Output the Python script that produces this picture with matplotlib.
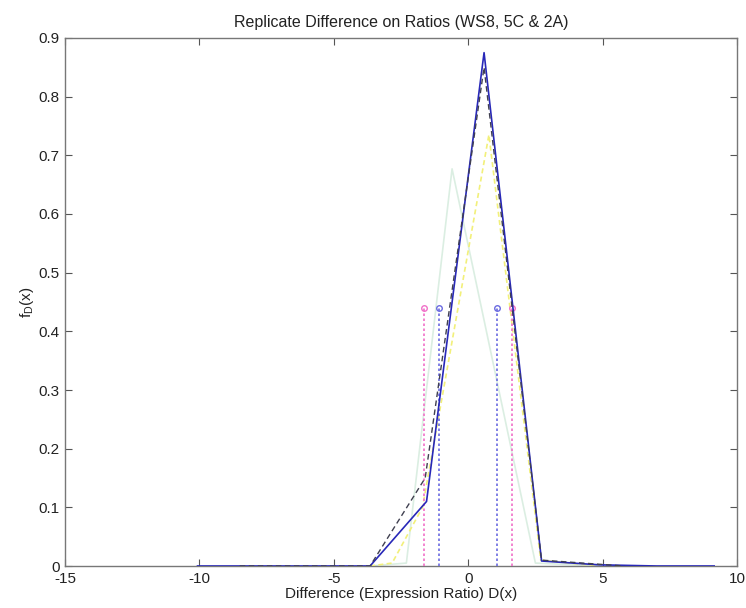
import matplotlib
matplotlib.use("Agg")
import matplotlib.pyplot as plt

plt.rcParams['font.family'] = ['Liberation Sans', 'DejaVu Sans']
plt.rcParams['mathtext.fontset'] = 'custom'
plt.rcParams['mathtext.rm'] = 'Liberation Sans'
plt.rcParams['mathtext.it'] = 'Liberation Sans'
plt.rcParams['axes.unicode_minus'] = False

# Series (x, f_D(x))
green_x = [-3.65, -2.3, -0.6, 2.5, 4.87]
green_y = [0.0, 0.005, 0.677, 0.005, 0.0]

yellow_x = [-3.65, -2.83, -1.7, 0.77, 2.7, 4.87]
yellow_y = [0.0, 0.005, 0.10, 0.735, 0.01, 0.0]

blue_x = [-10.07, -7.93, -5.79, -3.65, -1.55, 0.59, 2.73, 4.87, 7.01, 9.15]
blue_y = [0.0, 0.0, 0.0, 0.0, 0.11, 0.875, 0.0085, 0.002, 0.0, 0.0]

black_x = [-8.5, -5.79, -3.65, -1.6, 0.59, 2.73, 4.87, 5.8]
black_y = [0.0, 0.0, 0.0, 0.15, 0.85, 0.01, 0.003, 0.0]

# Vertical marker lines
magenta_vx = [-1.64, 1.63]
blue_vx = [-1.08, 1.07]
vline_top = 0.44

title = "Replicate Difference on Ratios (WS8, 5C & 2A)"
xlabel = "Difference (Expression Ratio) D(x)"
ylabel = r"f$_\mathregular{D}$(x)"
xticks = [-15, -10, -5, 0, 5, 10]
yticks = [0, 0.1, 0.2, 0.3, 0.4, 0.5, 0.6, 0.7, 0.8, 0.9]
yticklabels = ['0', '0.1', '0.2', '0.3', '0.4', '0.5', '0.6', '0.7', '0.8', '0.9']

fig = plt.figure(figsize=(7.46, 6.08), dpi=100)
ax = fig.add_axes([65/746, 1-566/608, (737-65)/746, (566-38)/608])

ax.plot(green_x, green_y, color='#dbeee2', lw=1.2, zorder=2)
ax.plot(yellow_x, yellow_y, color='#f2f07a', lw=1.2, ls=(0, (3, 2)), zorder=3)

for vx in magenta_vx:
    ax.plot([vx, vx], [0, vline_top], color='#f070c8', lw=1.2, ls=(0, (1.5, 1.5)), zorder=4)
    ax.plot([vx], [vline_top], marker='o', ms=4, mfc='none', mec='#f070c8', mew=1, zorder=4)
for vx in blue_vx:
    ax.plot([vx, vx], [0, vline_top], color='#6a6ae0', lw=1.2, ls=(0, (1.5, 1.5)), zorder=4)
    ax.plot([vx], [vline_top], marker='o', ms=4, mfc='none', mec='#6a6ae0', mew=1, zorder=4)

ax.plot(blue_x, blue_y, color='#2828b8', lw=1.2, zorder=5)
ax.plot(black_x, black_y, color='#404050', lw=1.0, ls=(0, (4, 2.5)), zorder=6)

ax.set_xlim(-15, 10)
ax.set_ylim(0, 0.9)
ax.set_xticks(xticks)
ax.set_yticks(yticks)
ax.set_yticklabels(yticklabels)
ax.tick_params(direction='in', top=True, right=True, length=5, width=0.8,
               color='#555555', labelsize=11, pad=4, labelcolor='#222222')
for s in ax.spines.values():
    s.set_color('#777777')
    s.set_linewidth(1.0)

ax.set_title(title, fontsize=11.5, color='#222222', pad=8)
ax.set_xlabel(xlabel, fontsize=11, color='#222222', labelpad=1)
ax.set_ylabel(ylabel, fontsize=11, color='#222222', labelpad=2)

fig.savefig("out.png", dpi=100)
